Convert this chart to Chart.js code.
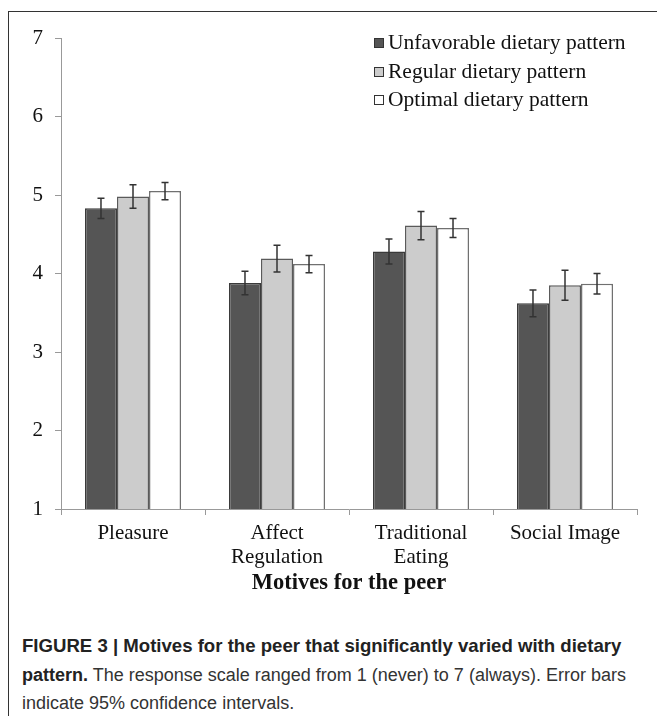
<!DOCTYPE html>
<html>
<head>
<meta charset="utf-8">
<script src="https://cdn.jsdelivr.net/npm/chart.js@4"></script>
<style>
  html, body { margin: 0; padding: 0; background: #fff; }
  #page { position: relative; width: 657px; height: 716px; overflow: hidden; }
  #frame { position: absolute; left: 8px; top: 11px; width: 700px; height: 720px;
           border-left: 1.5px solid #333; border-top: 1.5px solid #333; }
  #wrap { position: absolute; left: 0; top: 0; width: 657px; height: 600px; }
  #legend { position: absolute; left: 374px; top: 28px; font-family: "Liberation Serif", serif;
            font-size: 21.5px; color: #111; }
  #legend div { height: 28.7px; line-height: 28.7px; white-space: nowrap; }
  #legend span.box { display: inline-block; width: 8px; height: 8px; margin-right: 4px;
                     border: 1px solid #333; vertical-align: 1px; }
  #caption { position: absolute; left: 22px; top: 632px; font-family: "Liberation Sans", Arial, sans-serif;
             font-size: 18px; line-height: 28.5px; color: #333; white-space: nowrap; }
  #caption b { color: #222; }
  #caption .l1 { font-size: 18.6px; }
</style>
</head>
<body>
<div id="page">
  <div id="frame"></div>
  <div id="wrap"><canvas id="chart"></canvas></div>
  <div id="legend"></div>
  <div id="caption">
    <b class="l1">FIGURE 3 | Motives for the peer that significantly varied with dietary</b><br>
    <b>pattern.</b> The response scale ranged from 1 (never) to 7 (always). Error bars<br>
    indicate 95% confidence intervals.
  </div>
</div>
<script>
const categories = [["Pleasure"], ["Affect", "Regulation"], ["Traditional", "Eating"], ["Social Image"]];
const seriesNames = ["Unfavorable dietary pattern", "Regular dietary pattern", "Optimal dietary pattern"];
const unfavorable = [4.83, 3.88, 4.28, 3.62];
const regular = [4.98, 4.19, 4.61, 3.85];
const optimal = [5.05, 4.12, 4.58, 3.87];
const unfavorableErr = [0.13, 0.15, 0.16, 0.17];
const regularErr = [0.15, 0.17, 0.18, 0.19];
const optimalErr = [0.11, 0.11, 0.12, 0.13];
const yTicks = [1, 2, 3, 4, 5, 6, 7];

const fills = ["#555555", "#cccccc", "#ffffff"];
const borders = ["#3a3a3a", "#5a5a5a", "#707070"];
const serif = "'Liberation Serif', 'Times New Roman', serif";

// html legend, sits inside the plot like the original
const legend = document.getElementById("legend");
seriesNames.forEach((name, i) => {
  const row = document.createElement("div");
  row.innerHTML = '<span class="box" style="background:' + fills[i] + '"></span>' + name;
  legend.appendChild(row);
});

const errorBars = {
  id: "errorBars",
  afterDatasetsDraw(chart) {
    const ctx = chart.ctx;
    const y = chart.scales.y;
    chart.data.datasets.forEach((ds, di) => {
      const meta = chart.getDatasetMeta(di);
      meta.data.forEach((bar, i) => {
        const v = ds.data[i];
        const e = ds.errors[i];
        const top = y.getPixelForValue(v + e);
        const bot = y.getPixelForValue(v - e);
        ctx.save();
        ctx.strokeStyle = "#333";
        ctx.lineWidth = 1.5;
        ctx.beginPath();
        ctx.moveTo(bar.x, top);
        ctx.lineTo(bar.x, bot);
        ctx.moveTo(bar.x - 3.5, top);
        ctx.lineTo(bar.x + 3.5, top);
        ctx.moveTo(bar.x - 3.5, bot);
        ctx.lineTo(bar.x + 3.5, bot);
        ctx.stroke();
        ctx.restore();
      });
    });
  },
};

const values = [unfavorable, regular, optimal];
const errs = [unfavorableErr, regularErr, optimalErr];

new Chart(document.getElementById("chart"), {
  type: "bar",
  data: {
    labels: categories,
    datasets: seriesNames.map((name, i) => ({
      label: name,
      data: values[i],
      errors: errs[i],
      backgroundColor: fills[i],
      borderColor: borders[i],
      borderWidth: 1.5,
      borderSkipped: "bottom",
      barPercentage: 1,
      categoryPercentage: 0.667,
    })),
  },
  options: {
    responsive: true,
    maintainAspectRatio: false,
    animation: false,
    layout: { padding: { top: 38, right: 20, left: 0, bottom: 0 } },
    plugins: {
      legend: { display: false },
      tooltip: { enabled: false },
    },
    scales: {
      x: {
        afterFit: (scale) => { scale.height = 91; },
        grid: { drawOnChartArea: false, drawTicks: true, tickLength: 6, color: "#999", offset: true },
        border: { color: "#999", width: 1 },
        ticks: { color: "#111", padding: 6, maxRotation: 0, font: { family: serif, size: 21, lineHeight: 1.15 } },
        title: {
          display: true,
          text: "Motives for the peer",
          color: "#111",
          padding: { top: 0, bottom: 3 },
          font: { family: serif, size: 22.5, weight: "bold" },
        },
      },
      y: {
        min: 1,
        max: 7,
        afterFit: (scale) => { scale.width = 61; },
        afterBuildTicks: (scale) => { scale.ticks = yTicks.map((v) => ({ value: v })); },
        grid: { drawOnChartArea: false, drawTicks: true, tickLength: 6, color: "#999" },
        border: { color: "#999", width: 1 },
        ticks: { color: "#111", padding: 12, font: { family: serif, size: 21 } },
      },
    },
  },
  plugins: [errorBars],
});
</script>
</body>
</html>
